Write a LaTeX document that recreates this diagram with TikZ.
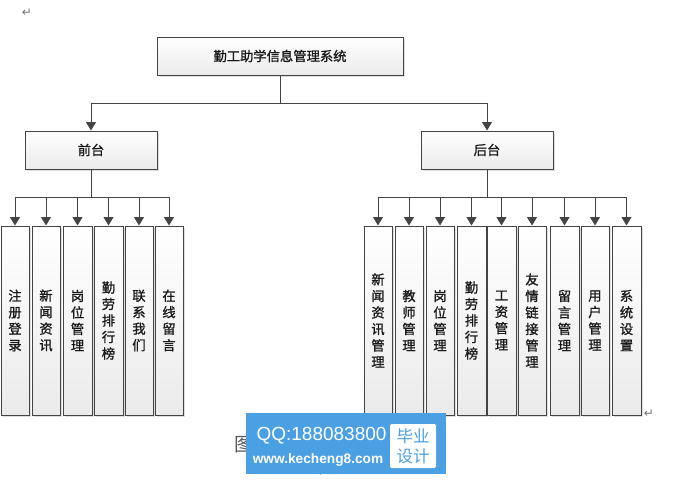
\documentclass[tikz,border=0pt]{standalone}
\usepackage{fontspec}
\setmainfont{Liberation Sans}
\newfontfamily\cjk[FakeBold=1.2]{Noto Sans CJK SC}
\newfontfamily\cjkplain{Noto Sans CJK SC}
\newfontfamily\parafont{DejaVu Sans}
\usetikzlibrary{arrows.meta,shadows}
\definecolor{lineC}{HTML}{444444}
\definecolor{wmblue}{HTML}{4AA0E2}
\tikzset{
  x=1pt,y=-1pt,
  box/.style={draw=lineC,line width=1pt,inner sep=0pt,
    top color=white,bottom color=black!8,text=black!90,
    drop shadow={shadow xshift=1.5pt,shadow yshift=-1.5pt,fill=black!25,opacity=0.5}},
  wide/.style={box,minimum height=38pt,font=\cjk\fontsize{13.3}{16.5}\selectfont},
  tall/.style={box,minimum height=189pt,align=center,font=\cjk\fontsize{13.3}{16.5}\selectfont},
  link/.style={draw=lineC,line width=1pt},
  arr/.style={link,-{Triangle[length=8.5pt,width=10pt,color=lineC]}},
  para/.style={inner sep=0pt,text=black!55,font=\parafont\fontsize{12}{12}\selectfont},
}
\begin{document}
\begin{tikzpicture}
\useasboundingbox (0,0) rectangle (693,479);
\fill[white] (0,0) rectangle (693,479);
\node[para] (p1) at (27,13) {↵};
\node[para] (p2) at (649,414) {↵};
\node[para] (p3) at (323,473) {↵};
\node[inner sep=0pt,text=black!65,font=\cjkplain\fontsize{19}{19}\selectfont] (fig) at (244,445) {图};

\node[wide,minimum width=246pt] (sys) at (280,56) {勤工助学信息管理系统};
\node[wide,minimum width=132pt] (front) at (91,150) {前台};
\node[wide,minimum width=132pt] (back) at (487,150) {后台};

\coordinate (b0) at (280,103);
\coordinate (b1) at (91,197);
\coordinate (b2) at (487,197);

\node[tall,minimum width=28pt] (l1) at (15,320.5) {注\\册\\登\\录};
\node[tall,minimum width=28pt] (l2) at (46,320.5) {新\\闻\\资\\讯};
\node[tall,minimum width=29pt] (l3) at (77.5,320.5) {岗\\位\\管\\理};
\node[tall,minimum width=29pt] (l4) at (108.5,320.5) {勤\\劳\\排\\行\\榜};
\node[tall,minimum width=28pt] (l5) at (139,320.5) {联\\系\\我\\们};
\node[tall,minimum width=28pt] (l6) at (169,320.5) {在\\线\\留\\言};

\node[tall,minimum width=28pt] (r1) at (378,320.5) {新\\闻\\资\\讯\\管\\理};
\node[tall,minimum width=28pt] (r2) at (409,320.5) {教\\师\\管\\理};
\node[tall,minimum width=28pt] (r3) at (440,320.5) {岗\\位\\管\\理};
\node[tall,minimum width=29pt] (r4) at (471.5,320.5) {勤\\劳\\排\\行\\榜};
\node[tall,minimum width=29pt] (r5) at (501.5,320.5) {工\\资\\管\\理};
\node[tall,minimum width=28pt] (r6) at (532,320.5) {友\\情\\链\\接\\管\\理};
\node[tall,minimum width=29pt] (r7) at (564.5,320.5) {留\\言\\管\\理};
\node[tall,minimum width=28pt] (r8) at (595,320.5) {用\\户\\管\\理};
\node[tall,minimum width=29pt] (r9) at (626.5,320.5) {系\\统\\设\\置};

\draw[link] (sys.south) -- (b0);
\draw[arr] (b0) -| (front.north);
\draw[arr] (b0) -| (back.north);
\draw[link] (front.south) -- (b1);
\draw[link] (back.south) -- (b2);
\foreach \n in {l1,l2,l3,l4,l5,l6} \draw[arr] (b1) -| (\n.north);
\foreach \n in {r1,r2,r3,r4,r5,r6,r7,r8,r9} \draw[arr] (b2) -| (\n.north);

\node[fill=wmblue,minimum width=200pt,minimum height=61pt,inner sep=0pt] (wm) at (346,443.5) {};
\node[fill=white,rounded corners=1.5pt,minimum width=46pt,minimum height=44pt,inner sep=0pt,align=center,
  text=wmblue,font=\cjkplain\fontsize{16.5}{20}\selectfont] (tag) at (413,446) {毕业\\设计};
\node[inner sep=0pt,text=white,font=\fontsize{19}{20}\selectfont] (qq) at (321.5,436) {QQ:188083800};
\node[inner sep=0pt,text=white,font=\bfseries\fontsize{13.7}{15}\selectfont] (web) at (318,460) {www.kecheng8.com};
\end{tikzpicture}
\end{document}
